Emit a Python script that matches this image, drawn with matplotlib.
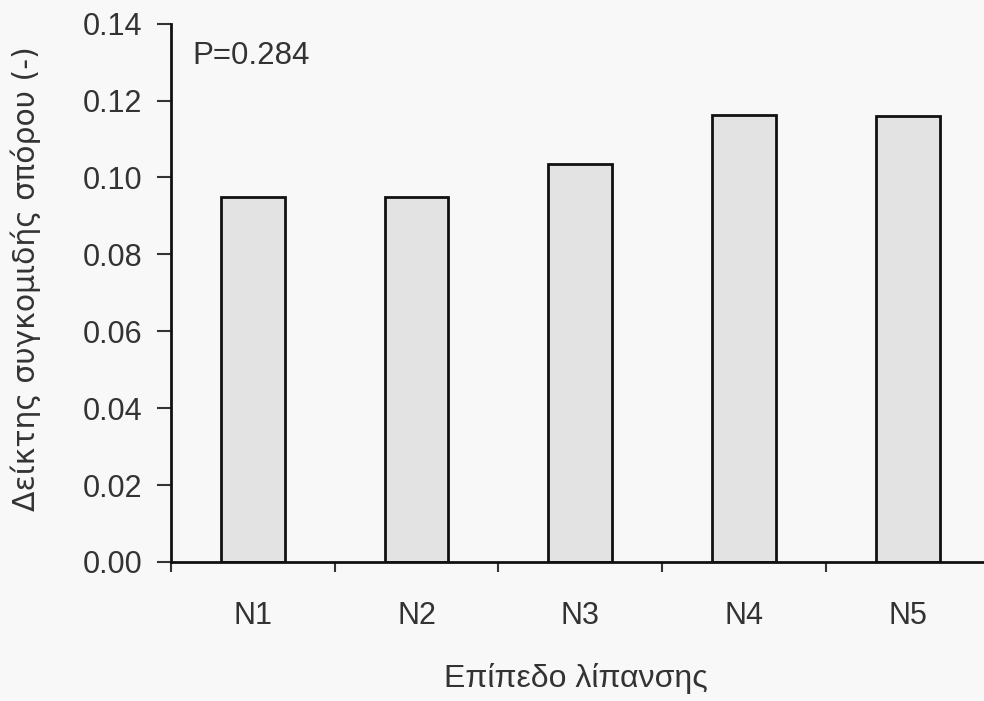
import matplotlib as mpl
mpl.use('Agg')
import matplotlib.pyplot as plt
import numpy as np

# nitrogen levels and harvest index of the seed
levels = ['N1', 'N2', 'N3', 'N4', 'N5']
harvest_index = [0.095, 0.095, 0.1035, 0.1162, 0.1161]
p_value = 'P=0.284'

plt.rcParams['font.family'] = ['Liberation Sans', 'DejaVu Sans']
plt.rcParams['font.size'] = 22

bg = '#f8f8f8'
fig = plt.figure(figsize=(9.84, 7.01), dpi=100, facecolor=bg)
ax = fig.add_axes([0.1738, 0.1983, 0.8318, 0.768], facecolor=bg)

x = np.arange(len(levels))
ax.bar(x, harvest_index, width=0.39, color='#e3e3e3', edgecolor='#111111',
       linewidth=2.0, zorder=2)

ax.set_xlim(-0.5, len(levels) - 0.5)
ax.set_ylim(0, 0.14)
yt = np.arange(0, 0.141, 0.02)
ax.set_yticks(yt)
ax.set_yticklabels(['%.2f' % v for v in yt], color='#333333')

# labels sit under the bars, ticks mark the boundaries between groups
ax.set_xticks(x)
ax.set_xticklabels(levels, color='#333333')
ax.set_xticks(np.arange(-0.5, len(levels), 1.0), minor=True)
ax.tick_params(axis='x', which='major', length=0, pad=28)
ax.tick_params(axis='x', which='minor', direction='out', length=7.5,
               width=1.5, color='#333333')
ax.tick_params(axis='y', direction='out', length=10, width=1.5,
               color='#333333', pad=10.5)

for side in ['top', 'right']:
    ax.spines[side].set_visible(False)
for side in ['left', 'bottom']:
    ax.spines[side].set_linewidth(2.0)
    ax.spines[side].set_color('#111111')

ax.set_xlabel('Επίπεδο λίπανσης', color='#333333', fontsize=23)
ax.xaxis.set_label_coords(0.495, -0.232)
ax.xaxis.label.set_va('baseline')

ax.set_ylabel('Δείκτης συγκομιδής σπόρου (-)', color='#333333',
              fontsize=21.5, family=['DejaVu Sans'])
ax.yaxis.set_label_coords(-0.177, 0.526)
ax.yaxis.label.set_ha('center')
ax.yaxis.label.set_va('center')

ax.text(0.026, 0.968, p_value, transform=ax.transAxes, ha='left', va='top',
        color='#333333', fontsize=22.5)

fig.savefig('out.png', dpi=100, facecolor=bg)
